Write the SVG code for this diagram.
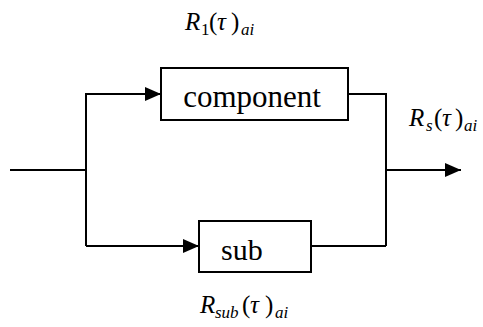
<svg xmlns="http://www.w3.org/2000/svg" width="483" height="327" viewBox="0 0 483 327">
<defs>
<marker id="arr" viewBox="0 0 16 14" refX="16" refY="7" markerWidth="16" markerHeight="14" markerUnits="userSpaceOnUse" orient="auto">
<path d="M0,0 L16,7 L0,14 Z" fill="#000"/>
</marker>
</defs>
<style>
.box{fill:#fff;stroke:#000;stroke-width:2}
.ln{fill:none;stroke:#000;stroke-width:2}
.it{font-style:italic}
.sb{font-size:17px}
</style>
<g id="connectors">
<path class="ln" d="M10,170 H86"/>
<path class="ln" d="M86,246 V94 H161" marker-end="url(#arr)"/>
<path class="ln" d="M86,246 H199" marker-end="url(#arr)"/>
<path class="ln" d="M348,94 H386 V246"/>
<path class="ln" d="M311,246 H386"/>
<path class="ln" d="M386,170 H461" marker-end="url(#arr)"/>
</g>
<g id="component" font-family="Liberation Serif, serif">
<rect class="box" x="161" y="68" width="187" height="52"/>
<text x="252" y="107" font-size="31" text-anchor="middle">component</text>
</g>
<g id="sub" font-family="Liberation Serif, serif">
<rect class="box" x="199" y="221" width="112" height="51"/>
<text x="221" y="260" font-size="30">sub</text>
</g>
<g id="label-r1" font-family="Liberation Serif, serif" font-size="25">
<text y="30"><tspan class="it" x="185">R</tspan><tspan class="sb" x="201" dy="5">1</tspan><tspan x="209" dy="-5">(</tspan><tspan class="it" x="217">τ</tspan><tspan x="231">)</tspan><tspan class="sb it" x="241" dy="5">ai</tspan></text>
</g>
<g id="label-rs" font-family="Liberation Serif, serif" font-size="25">
<text y="126"><tspan class="it" x="409">R</tspan><tspan class="sb it" x="426" dy="5">s</tspan><tspan x="434" dy="-5">(</tspan><tspan class="it" x="442">τ</tspan><tspan x="455">)</tspan><tspan class="sb it" x="464" dy="5">ai</tspan></text>
</g>
<g id="label-rsub" font-family="Liberation Serif, serif" font-size="25">
<text y="313"><tspan class="it" x="200">R</tspan><tspan class="sb it" x="215" dy="5">sub</tspan><tspan x="242" dy="-5">(</tspan><tspan class="it" x="250">τ</tspan><tspan x="265">)</tspan><tspan class="sb it" x="275" dy="5">ai</tspan></text>
</g>
</svg>
